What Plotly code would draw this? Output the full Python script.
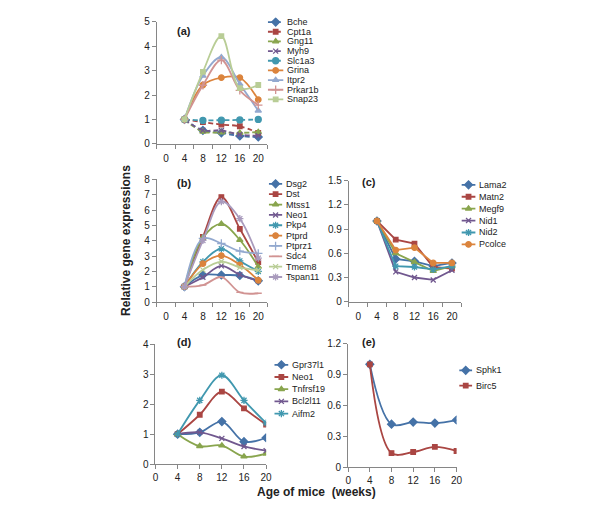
import plotly.graph_objects as go

W, H = 600, 506

# === Data ===
WEEKS = [4, 8, 12, 16, 20]
WEEK_TICKS = [0, 4, 8, 12, 16, 20]

A_GENES = ["Bche", "Cpt1a", "Gng11", "Myh9", "Slc1a3", "Grina", "Itpr2", "Prkar1b", "Snap23"]
A_VALUES = [
    [1.0, 0.55, 0.45, 0.32, 0.28],
    [1.0, 0.89, 0.79, 0.72, 0.45],
    [1.0, 0.50, 0.47, 0.45, 0.48],
    [1.0, 0.56, 0.55, 0.38, 0.33],
    [1.0, 0.96, 0.97, 0.98, 1.00],
    [1.0, 2.41, 2.71, 2.71, 1.81],
    [1.0, 2.79, 3.55, 2.45, 1.36],
    [1.0, 2.40, 3.43, 2.19, 1.59],
    [1.0, 2.95, 4.41, 2.28, 2.41],
]
A_YTICKS = [0, 1, 2, 3, 4, 5]

B_GENES = ["Dsg2", "Dst", "Mtss1", "Neo1", "Pkp4", "Ptprd", "Ptprz1", "Sdc4", "Tmem8", "Tspan11"]
B_VALUES = [
    [1.0, 1.76, 1.76, 1.73, 1.38],
    [1.0, 4.25, 6.85, 4.78, 2.60],
    [1.0, 4.20, 5.10, 4.05, 2.30],
    [1.0, 1.62, 2.36, 1.78, 1.38],
    [1.0, 2.62, 3.47, 2.68, 2.00],
    [1.0, 2.50, 3.03, 2.43, 1.42],
    [1.0, 4.15, 3.82, 3.32, 3.17],
    [1.0, 1.10, 1.63, 0.63, 0.57],
    [1.0, 2.10, 2.64, 2.26, 2.07],
    [1.0, 4.02, 6.56, 5.44, 2.86],
]
B_YTICKS = [0, 1, 2, 3, 4, 5, 6, 7, 8]

C_GENES = ["Lama2", "Matn2", "Megf9", "Nid1", "Nid2", "Pcolce"]
C_VALUES = [
    [1.0, 0.53, 0.50, 0.44, 0.48],
    [1.0, 0.77, 0.72, 0.43, 0.41],
    [1.0, 0.60, 0.49, 0.38, 0.44],
    [1.0, 0.37, 0.30, 0.27, 0.39],
    [1.0, 0.44, 0.43, 0.40, 0.44],
    [1.0, 0.64, 0.67, 0.48, 0.48],
]
C_YTICKS = [0, 0.3, 0.6, 0.9, 1.2, 1.5]

D_GENES = ["Gpr37l1", "Neo1", "Tnfrsf19", "Bcl2l11", "Aifm2"]
D_VALUES = [
    [1.0, 1.06, 1.42, 0.75, 0.88],
    [1.0, 1.65, 2.42, 1.86, 1.32],
    [1.0, 0.60, 0.62, 0.25, 0.35],
    [1.0, 1.06, 0.86, 0.59, 0.45],
    [1.0, 2.13, 2.97, 2.13, 1.37],
]
D_YTICKS = [0, 1, 2, 3, 4]

E_GENES = ["Sphk1", "Birc5"]
E_VALUES = [
    [1.0, 0.42, 0.44, 0.43, 0.46],
    [1.0, 0.14, 0.15, 0.20, 0.16],
]
E_YTICKS = [0, 0.3, 0.6, 0.9, 1.2]

# === Styles ===
NARROW = "Liberation Sans Narrow, Arial Narrow, Liberation Sans, Arial, sans-serif"
REGULAR = "Liberation Sans, Arial, sans-serif"
AXIS_COLOR = "#868686"
TEXT_COLOR = "#222222"

C_BLUE, C_RED, C_GREEN, C_PURPLE = "#4572A7", "#AA4643", "#89A54E", "#71588F"
C_CYAN, C_ORANGE, C_LBLUE, C_PINK = "#4198AF", "#DB843D", "#93A9CF", "#D19392"
C_LGREEN, C_LAV = "#B9CD96", "#A99BBD"

# colour, marker symbol, marker size, dash
A_STYLE = [
    (C_BLUE, "diamond", 6, "5px,3px"), (C_RED, "square", 4.5, "5px,3px"),
    (C_GREEN, "triangle-up", 5.5, "5px,3px"), (C_PURPLE, "x-thin-open", 5, "5px,3px"),
    (C_CYAN, "circle", 6, "5px,3px"), (C_ORANGE, "circle", 5.5, "solid"),
    (C_LBLUE, "triangle-up", 5.5, "solid"), (C_PINK, "cross-thin-open", 6, "solid"),
    (C_LGREEN, "square", 4.5, "solid"),
]
B_STYLE = [
    (C_BLUE, "diamond", 6, "solid"), (C_RED, "square", 4.5, "solid"),
    (C_GREEN, "triangle-up", 5.5, "solid"), (C_PURPLE, "x-thin-open", 5, "solid"),
    (C_CYAN, "asterisk-open", 6, "solid"), (C_ORANGE, "circle", 5.5, "solid"),
    (C_LBLUE, "cross-thin-open", 6, "solid"), (C_PINK, "line-ew-open", 5, "solid"),
    (C_LGREEN, "x-thin-open", 5, "solid"), (C_LAV, "asterisk-open", 6, "solid"),
]
C_STYLE = B_STYLE[:6]
D_STYLE = B_STYLE[:5]
E_STYLE = B_STYLE[:2]


def fx(p):
    return p / W


def fy(p):
    return 1 - p / H


# panel geometry in pixels: plot box (x0, x1, top, bottom), label pos, legend (key x0, key x1, first row y, row step)
PANELS = [
    dict(genes=A_GENES, vals=A_VALUES, style=A_STYLE, yt=A_YTICKS, box=(148, 260.4, 8, 133),
         cat=True, shape="spline", label="(a)", lab=(166, 9),
         leg=(260.7, 276.7, 8.3, 9.9)),
    dict(genes=B_GENES, vals=B_VALUES, style=B_STYLE, yt=B_YTICKS, box=(148, 260.4, 169.5, 295),
         cat=True, shape="spline", label="(b)", lab=(166, 173),
         leg=(261.7, 275.5, 174, 10.6)),
    dict(genes=C_GENES, vals=C_VALUES, style=C_STYLE, yt=C_YTICKS, box=(343, 457.2, 170.7, 294.7),
         cat=True, shape="linear", label="(c)", lab=(363.5, 172.5),
         leg=(457.3, 471.7, 175, 12.2)),
    dict(genes=D_GENES, vals=D_VALUES, style=D_STYLE, yt=D_YTICKS, box=(146.7, 259, 338.5, 461),
         cat=False, shape="spline", label="(d)", lab=(166.5, 336),
         leg=(267.3, 281.7, 359.3, 12.5)),
    dict(genes=E_GENES, vals=E_VALUES, style=E_STYLE, yt=E_YTICKS, box=(342.3, 452.3, 337.7, 464.5),
         cat=False, shape="spline", label="(e)", lab=(363.5, 336),
         leg=(455, 468.3, 365, 15.7)),
]

fig = go.Figure()
layout = {}
annotations = []

for k, p in enumerate(PANELS):
    n = k + 1
    ax = "" if n == 1 else str(n)
    x0, x1, yt_px, yb_px = p["box"]
    xr = [-2, 22] if p["cat"] else [0, 20]

    for gene, vals, (col, sym, msize, dash) in zip(p["genes"], p["vals"], p["style"]):
        fig.add_trace(go.Scatter(
            x=WEEKS, y=vals, name=gene, mode="lines+markers",
            line=dict(color=col, width=1.8, dash=dash, shape=p["shape"]),
            marker=dict(symbol=sym, size=msize, color=col, line=dict(color=col, width=1.3)),
            xaxis="x" + ax, yaxis="y" + ax, showlegend=False,
        ))

    xa = dict(
        domain=[fx(x0), fx(x1)], range=xr, anchor="y" + ax,
        showline=True, linecolor=AXIS_COLOR, linewidth=1, showgrid=False, zeroline=False,
        tickmode="array", tickvals=WEEK_TICKS, ticktext=[str(t) for t in WEEK_TICKS],
        tickfont=dict(family=NARROW, size=10, color=TEXT_COLOR), fixedrange=True,
    )
    if p["cat"]:
        xa.update(ticks="", ticklabelstandoff=5,
                  minor=dict(tickmode="array",
                             tickvals=[t - 2 for t in WEEK_TICKS] + [WEEK_TICKS[-1] + 2],
                             ticks="outside", ticklen=4, tickcolor=AXIS_COLOR, showgrid=False))
    else:
        xa.update(ticks="outside", ticklen=4, tickcolor=AXIS_COLOR)
    ya = dict(
        domain=[fy(yb_px), fy(yt_px)], range=[p["yt"][0], p["yt"][-1]], anchor="x" + ax,
        showline=True, linecolor=AXIS_COLOR, linewidth=1, showgrid=False, zeroline=False,
        tickmode="array", tickvals=p["yt"], ticks="outside", ticklen=4, tickcolor=AXIS_COLOR,
        tickfont=dict(family=NARROW, size=10, color=TEXT_COLOR), fixedrange=True,
    )
    layout["xaxis" + ax] = xa
    layout["yaxis" + ax] = ya

    annotations.append(dict(
        x=fx(p["lab"][0]), y=fy(p["lab"][1]), xref="paper", yref="paper",
        text="<b>" + p["label"] + "</b>", showarrow=False,
        font=dict(family=NARROW, size=11, color="#222222"),
    ))

    # legend drawn on its own small axis, one row per gene
    m = len(PANELS) + n
    lk0, lk1, ltop, lsp = p["leg"]
    cnt = len(p["genes"])
    for i, (gene, (col, sym, msize, dash)) in enumerate(zip(p["genes"], p["style"])):
        fig.add_trace(go.Scatter(
            x=[0, 1], y=[i, i], mode="lines",
            line=dict(color=col, width=1.8, dash=dash),
            xaxis="x%d" % m, yaxis="y%d" % m, showlegend=False, hoverinfo="skip",
        ))
        fig.add_trace(go.Scatter(
            x=[0.5], y=[i], mode="markers",
            marker=dict(symbol=sym, size=msize, color=col, line=dict(color=col, width=1.3)),
            xaxis="x%d" % m, yaxis="y%d" % m, showlegend=False, hoverinfo="skip",
        ))
        annotations.append(dict(
            x=fx(lk1 + 1.5), y=i, xref="paper", yref="y%d" % m, xanchor="left",
            text=gene, showarrow=False,
            font=dict(family=NARROW, size=9, color="#222222"),
        ))
    layout["xaxis%d" % m] = dict(domain=[fx(lk0), fx(lk1)], range=[0, 1], visible=False,
                                 anchor="y%d" % m, fixedrange=True)
    layout["yaxis%d" % m] = dict(domain=[fy(ltop + (cnt - 0.5) * lsp), fy(ltop - 0.5 * lsp)],
                                 range=[cnt - 0.5, -0.5], visible=False,
                                 anchor="x%d" % m, fixedrange=True)

annotations.append(dict(
    x=fx(108), y=fy(232), xref="paper", yref="paper", text="<b>Relative gene expressions</b>",
    textangle=-90, showarrow=False, font=dict(family=REGULAR, size=12, color="#222222"),
))
annotations.append(dict(
    x=fx(310.5), y=fy(499), xref="paper", yref="paper", text="<b>Age of mice \u00a0(weeks)</b>",
    showarrow=False, font=dict(family=REGULAR, size=12, color="#222222"),
))

fig.update_layout(
    width=W, height=H, margin=dict(l=0, r=0, t=0, b=0),
    plot_bgcolor="white", paper_bgcolor="white",
    showlegend=False, annotations=annotations, **layout,
)

fig.write_html("out.html")
